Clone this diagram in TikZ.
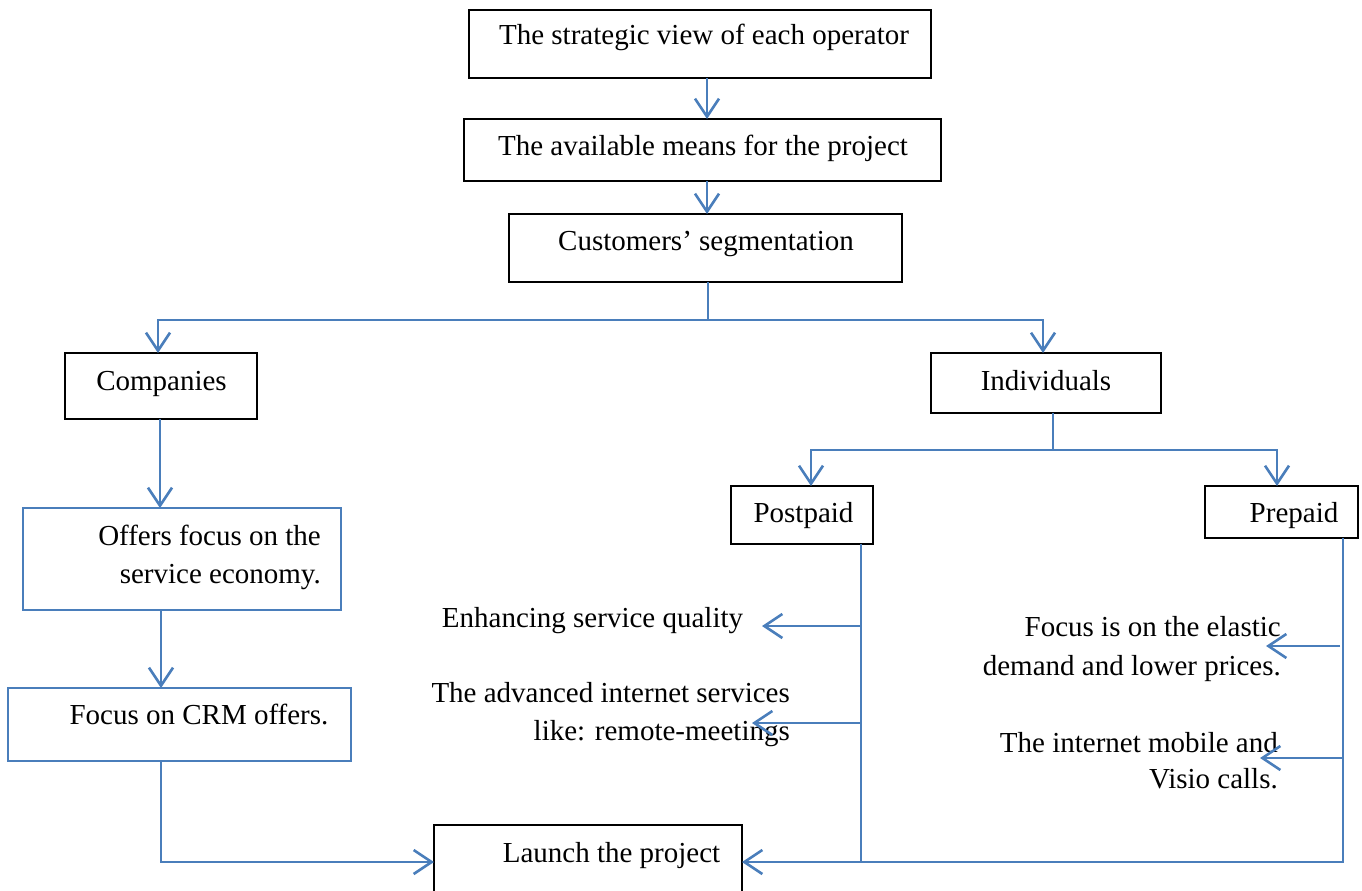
\documentclass[tikz,border=0pt]{standalone}
\usepackage{fontspec}
\setmainfont{Liberation Serif}
\usetikzlibrary{arrows.meta}
\definecolor{blueL}{RGB}{74,126,187}
\begin{document}
\begin{tikzpicture}[x=1pt,y=-1pt,
  box/.style={draw=black, line width=1.8pt, inner sep=0pt, outer sep=0pt},
  bbox/.style={draw=blueL, line width=1.5pt, inner sep=0pt, outer sep=0pt},
  txt/.style={inner sep=0pt, font=\fontsize{29}{38}\selectfont},
  lnk/.style={draw=blueL, line width=2.6pt},
  conn/.style={lnk, -{Straight Barb[length=18pt,width=24pt]}}]
\useasboundingbox (0,0) rectangle (1362,891);
% boxes
\node[box, minimum width=462pt, minimum height=68pt] (b1) at (700,44) {};
\node[box, minimum width=477pt, minimum height=62pt] (b2) at (702.5,150) {};
\node[box, minimum width=393pt, minimum height=68pt] (b3) at (705.5,248) {};
\node[box, minimum width=192pt, minimum height=66pt] (comp) at (161,386) {};
\node[box, minimum width=230pt, minimum height=60pt] (ind) at (1046,383) {};
\node[bbox, minimum width=318pt, minimum height=102pt] (offers) at (182,559) {};
\node[bbox, minimum width=343pt, minimum height=73pt] (crm) at (179.5,724.5) {};
\node[box, minimum width=142pt, minimum height=58pt] (post) at (802,515) {};
\node[box, minimum width=153pt, minimum height=52pt] (pre) at (1281.5,512) {};
\node[box, minimum width=308pt, minimum height=70pt] (launch) at (588,860) {};
% texts
\node[txt, anchor=base] (t1) at (704,45) {The strategic view of each operator};
\node[txt, anchor=base] (t2) at (703,155) {The available means for the project};
\node[txt, anchor=base] (t3) at (706,250) {Customers’ segmentation};
\node[txt, anchor=base] (tc) at (161.5,390) {Companies};
\node[txt, anchor=base] (ti) at (1046,390) {Individuals};
\node[txt, anchor=base east] (to1) at (321,545) {Offers focus on the};
\node[txt, anchor=base east] (to2) at (321,583) {service economy.};
\node[txt, anchor=base] (tcrm) at (199,724) {Focus on CRM offers.};
\node[txt, anchor=base] (tpo) at (803.5,522) {Postpaid};
\node[txt, anchor=base] (tpr) at (1294,522) {Prepaid};
\node[txt, anchor=base] (enh) at (592.5,627) {Enhancing service quality};
\node[txt, anchor=base east] (adv1) at (790,702) {The advanced internet services};
\node[txt, anchor=base east] (adv2) at (790,740) {like: remote-meetings};
\node[txt, anchor=base east] (el1) at (1281,636) {Focus is on the elastic};
\node[txt, anchor=base east] (el2) at (1281,675) {demand and lower prices.};
\node[txt, anchor=base east] (im1) at (1278,752) {The internet mobile and};
\node[txt, anchor=base east] (im2) at (1278,788) {Visio calls.};
\node[txt, anchor=base] (tl) at (611.5,862) {Launch the project};
% coordinates
\coordinate (x1) at (707,0);
\coordinate (j1) at (708,320);
\coordinate (jL) at (158,0);
\coordinate (jR) at (1043,0);
\coordinate (x2) at (160,0);
\coordinate (x3) at (161,0);
\coordinate (yL) at (0,862);
\coordinate (j2) at (1053,450);
\coordinate (xP) at (811,0);
\coordinate (xQ) at (1277,0);
\coordinate (xv) at (861,0);
\coordinate (xw) at (1343,0);
\coordinate (e1) at (762,626);
\coordinate (e2) at (752,723);
\coordinate (f1s) at (1340,646);
\coordinate (f1) at (1266,646);
\coordinate (f2) at (1260,758);
% connectors
\draw[conn] (b1.south -| x1) -- (b2.north -| x1);
\draw[conn] (b2.south -| x1) -- (b3.north -| x1);
\draw[lnk] (b3.south -| j1) -- (j1);
\draw[conn] (j1) -| (comp.north -| jL);
\draw[conn] (j1) -| (ind.north -| jR);
\draw[conn] (comp.south -| x2) -- (offers.north -| x2);
\draw[conn] (offers.south -| x3) -- (crm.north -| x3);
\draw[conn] (crm.south -| x3) |- (launch.west |- yL);
\draw[lnk] (ind.south -| j2) -- (j2);
\draw[conn] (j2) -| (post.north -| xP);
\draw[conn] (j2) -| (pre.north -| xQ);
\draw[lnk] (post.south -| xv) -- (xv |- yL);
\draw[conn] (xv |- e1) -- (e1);
\draw[conn] (xv |- e2) -- (e2);
\draw[conn] (pre.south -| xw) |- (launch.east |- yL);
\draw[conn] (f1s) -- (f1);
\draw[conn] (xw |- f2) -- (f2);
\end{tikzpicture}
\end{document}
